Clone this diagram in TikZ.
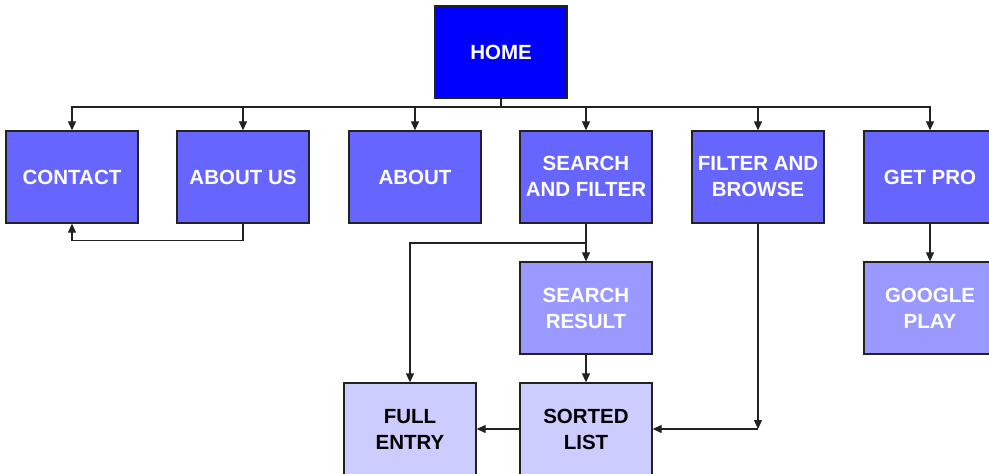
\documentclass[tikz,border=0pt]{standalone}
\usepackage{fontspec}
\setmainfont{Liberation Sans}
\usetikzlibrary{arrows.meta}
\definecolor{lvA}{HTML}{0000FF}
\definecolor{lvB}{HTML}{6666FF}
\definecolor{lvC}{HTML}{9999FF}
\definecolor{lvD}{HTML}{CCCCFF}
\definecolor{edge}{HTML}{222222}
\begin{document}
\begin{tikzpicture}[x=1pt,y=-1pt,
  box/.style={draw=edge,line width=1.3pt,minimum width=132pt,minimum height=92pt,inner sep=0pt,
    align=center,font=\fontsize{20.5}{26}\selectfont\bfseries,text=white},
  home/.style={box,fill=lvA},
  lone/.style={box,fill=lvB},
  ltwo/.style={box,fill=lvC},
  lthree/.style={box,fill=lvD,text=black},
  conn/.style={draw=edge,line width=1.1pt},
  arr/.style={conn,-{Triangle[length=9pt,width=8pt]}}]
\useasboundingbox (0,0) rectangle (989,474);
\fill[white] (0,0) rectangle (989,474);
\node[home] (home) at (501,52) {HOME};
\node[lone] (contact) at (72,177) {CONTACT};
\node[lone] (aboutus) at (243,177) {ABOUT US};
\node[lone] (about) at (415,177) {ABOUT};
\node[lone,text depth=2pt] (search) at (586,177) {SEARCH\\AND FILTER};
\node[lone,text depth=2pt] (filter) at (758,177) {FILTER AND\\BROWSE};
\node[lone] (getpro) at (930,177) {GET PRO};
\node[ltwo] (result) at (586,308) {SEARCH\\RESULT};
\node[ltwo] (google) at (930,308) {GOOGLE\\PLAY};
\node[lthree] (full) at (410,429) {FULL\\ENTRY};
\node[lthree] (sorted) at (586,429) {SORTED\\LIST};
\coordinate (bar) at (501,107);
\coordinate (br) at (586,243);
\coordinate (fb) at (758,429);
\draw[conn] (home.south) -- (bar);
\draw[arr] (bar) -| (contact.north);
\draw[arr] (bar) -| (aboutus.north);
\draw[arr] (bar) -| (about.north);
\draw[arr] (bar) -| (search.north);
\draw[arr] (bar) -| (filter.north);
\draw[arr] (bar) -| (getpro.north);
\draw[arr] (aboutus.south) |- ++(0,17) -| (contact.south);
\draw[arr] (search.south) -- (result.north);
\draw[arr] (br) -| (full.north);
\draw[arr] (result.south) -- (sorted.north);
\draw[arr] (sorted.west) -- (full.east);
\draw[arr] (filter.south) -- (fb);
\draw[arr] (fb) -- (sorted.east);
\draw[arr] (getpro.south) -- (google.north);
\end{tikzpicture}
\end{document}
